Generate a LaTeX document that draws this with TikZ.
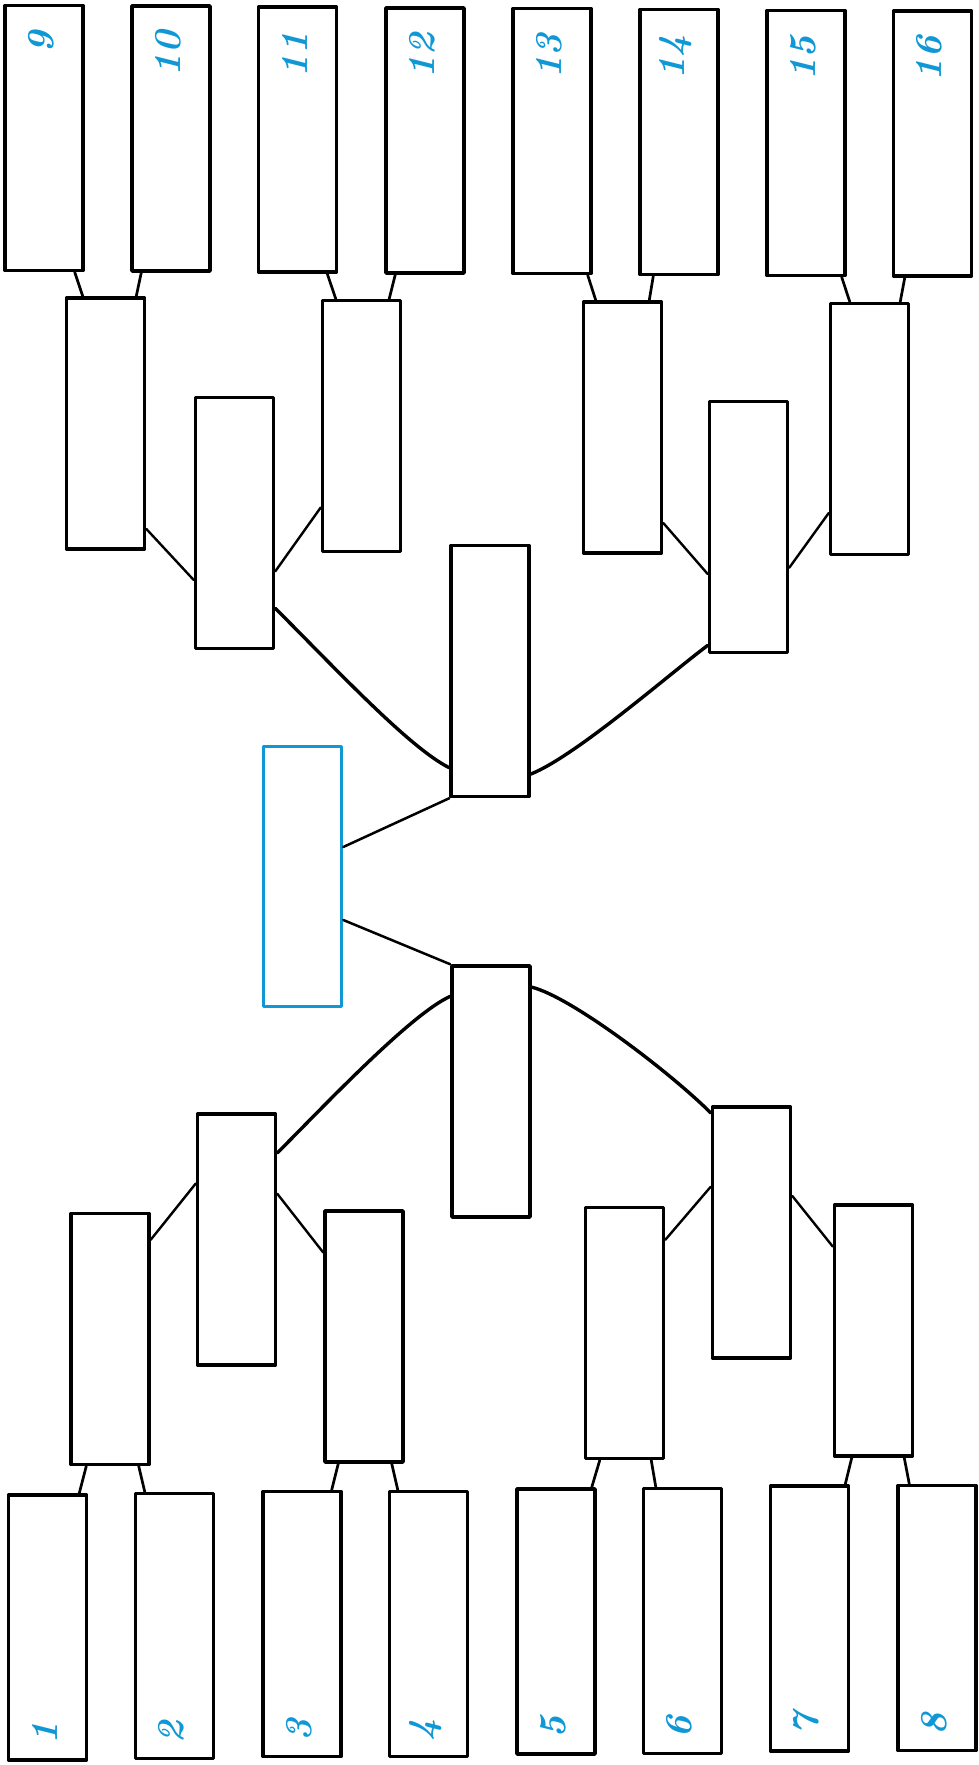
\documentclass[tikz,border=0pt]{standalone}
\usetikzlibrary{calc}
\definecolor{bblue}{RGB}{16,152,214}
\begin{document}
\begin{tikzpicture}[x=1pt,y=-1pt,
  leaf/.style={draw=black, line width=3.5pt, fill=white, minimum width=78pt, minimum height=265pt, inner sep=0pt, line join=round},
  mid/.style={draw=black, line width=3.5pt, fill=white, minimum width=78pt, minimum height=251pt, inner sep=0pt, line join=round},
  final/.style={draw=bblue, line width=3.5pt, fill=white, minimum width=78pt, minimum height=260pt, inner sep=0pt, line join=round},
  lbl/.style={text=bblue, rotate=90, inner sep=0pt, font=\fontsize{38}{44}\selectfont\bfseries\itshape},
  leaflink/.style={line width=2.7pt, line cap=round},
  midlink/.style={line width=2.4pt, line cap=round},
  curvelink/.style={line width=3.4pt, line cap=round},
  centerlink/.style={line width=2.5pt, line cap=round}]
\useasboundingbox (0,0) rectangle (979,1765);
% top leaves
\node[leaf] (n9)  at (44,138) {};
\node[leaf] (n10) at (171,138.5) {};
\node[leaf] (n11) at (297.5,139.5) {};
\node[leaf] (n12) at (425,140.5) {};
\node[leaf] (n13) at (552,141) {};
\node[leaf] (n14) at (679,142) {};
\node[leaf] (n15) at (806,143) {};
\node[leaf] (n16) at (932.5,143.5) {};
% bottom leaves
\node[leaf] (n1) at (47.5,1627.5) {};
\node[leaf] (n2) at (174.5,1626) {};
\node[leaf] (n3) at (302,1624) {};
\node[leaf] (n4) at (428.5,1624) {};
\node[leaf] (n5) at (556,1621.5) {};
\node[leaf] (n6) at (682.5,1621) {};
\node[leaf] (n7) at (809.5,1618.5) {};
\node[leaf] (n8) at (937,1618) {};
% rounds
\node[mid] (A) at (105.5,423.5) {};
\node[mid] (B) at (361.5,426) {};
\node[mid] (C) at (622.5,427.5) {};
\node[mid] (D) at (869.5,429) {};
\node[mid] (E) at (234.5,523) {};
\node[mid] (F) at (748.5,527) {};
\node[mid] (G) at (490,671) {};
\node[final] (H) at (302.5,876.5) {};
\node[mid] (I) at (491,1091.5) {};
\node[mid] (J) at (236.5,1239.5) {};
\node[mid] (K) at (751.5,1232.5) {};
\node[mid] (L) at (110,1339) {};
\node[mid] (M) at (364,1336.5) {};
\node[mid] (N) at (624.5,1333) {};
\node[mid] (O) at (873.5,1330.5) {};
% labels
\foreach \n/\t in {n9/9,n10/10,n11/11,n12/12,n13/13,n14/14,n15/15,n16/16}
  \node[lbl, anchor=east] at ($(\n.north)+(-3,27)$) {\t};
\foreach \n/\t in {n1/1,n2/2,n3/3,n4/4,n5/5,n6/6,n7/7,n8/8}
  \node[lbl, anchor=west] at ($(\n.south)+(-3,-17)$) {\t};
% leaf links top
\draw[leaflink] ([xshift=-10pt]n9.south east) -- ([xshift=18pt]A.north west);
\draw[leaflink] ([xshift=11pt]n10.south west) -- ([xshift=-10pt]A.north east);
\draw[leaflink] ([xshift=-11pt]n11.south east) -- ([xshift=15pt]B.north west);
\draw[leaflink] ([xshift=11pt]n12.south west) -- ([xshift=-13pt]B.north east);
\draw[leaflink] ([xshift=-5pt]n13.south east) -- ([xshift=14pt]C.north west);
\draw[leaflink] ([xshift=15pt]n14.south west) -- ([xshift=-14pt]C.north east);
\draw[leaflink] ([xshift=-5pt]n15.south east) -- ([xshift=21pt]D.north west);
\draw[leaflink] ([xshift=13pt]n16.south west) -- ([xshift=-10pt]D.north east);
% leaf links bottom
\draw[leaflink] ([xshift=-9pt]n1.north east) -- ([xshift=17pt]L.south west);
\draw[leaflink] ([xshift=11pt]n2.north west) -- ([xshift=-12pt]L.south east);
\draw[leaflink] ([xshift=-11pt]n3.north east) -- ([xshift=15pt]M.south west);
\draw[leaflink] ([xshift=10pt]n4.north west) -- ([xshift=-13pt]M.south east);
\draw[leaflink] ([xshift=-5pt]n5.north east) -- ([xshift=16pt]N.south west);
\draw[leaflink] ([xshift=14pt]n6.north west) -- ([xshift=-14pt]N.south east);
\draw[leaflink] ([xshift=-5pt]n7.north east) -- ([xshift=19pt]O.south west);
\draw[leaflink] ([xshift=13pt]n8.north west) -- ([xshift=-10pt]O.south east);
% round 2 -> round 3
\draw[midlink] ($(A.north east)!0.914!(A.south east)$) -- ($(E.north west)!0.724!(E.south west)$);
\draw[midlink] ($(B.north west)!0.82!(B.south west)$) -- ($(E.north east)!0.69!(E.south east)$);
\draw[midlink] ($(C.north east)!0.875!(C.south east)$) -- ($(F.north west)!0.685!(F.south west)$);
\draw[midlink] ($(D.north west)!0.83!(D.south west)$) -- ($(F.north east)!0.66!(F.south east)$);
\draw[midlink] ($(L.north east)!0.11!(L.south east)$) -- ($(J.north west)!0.28!(J.south west)$);
\draw[midlink] ($(M.north west)!0.17!(M.south west)$) -- ($(J.north east)!0.32!(J.south east)$);
\draw[midlink] ($(N.north east)!0.134!(N.south east)$) -- ($(K.north west)!0.32!(K.south west)$);
\draw[midlink] ($(O.north west)!0.17!(O.south west)$) -- ($(K.north east)!0.356!(K.south east)$);
% round 3 -> semis (curves)
\coordinate (e1) at ($(E.north east)!0.835!(E.south east)$);
\coordinate (g1) at ($(G.north west)!0.88!(G.south west)$);
\draw[curvelink] (e1) .. controls ($(e1)+(60,60)$) and ($(g1)+(-40,-20)$) .. (g1);
\coordinate (f1) at ($(F.north west)!0.965!(F.south west)$);
\coordinate (g2) at ($(G.north east)!0.905!(G.south east)$);
\draw[curvelink] (f1) .. controls ($(f1)+(-40,30)$) and ($(g2)+(45,-18)$) .. (g2);
\coordinate (i1) at ($(I.north west)!0.126!(I.south west)$);
\coordinate (j1) at ($(J.north east)!0.16!(J.south east)$);
\draw[curvelink] (i1) .. controls ($(i1)+(-40,18)$) and ($(j1)+(45,-45)$) .. (j1);
\coordinate (i2) at ($(I.north east)!0.09!(I.south east)$);
\coordinate (k1) at ($(K.north west)!0.03!(K.south west)$);
\draw[curvelink] (i2) .. controls ($(i2)+(40,10)$) and ($(k1)+(-40,-40)$) .. (k1);
% semis -> final
\draw[centerlink] (G.south west) -- ($(H.north east)!0.388!(H.south east)$);
\draw[centerlink] ($(H.north east)!0.665!(H.south east)$) -- (I.north west);
\end{tikzpicture}
\end{document}
